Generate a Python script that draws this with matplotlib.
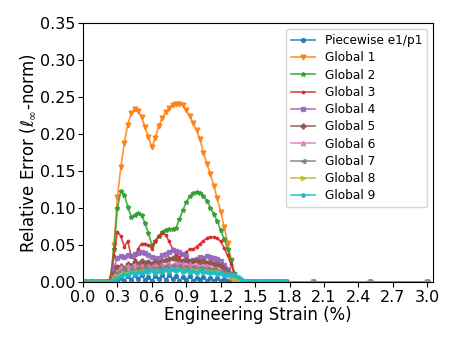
import matplotlib
matplotlib.use("Agg")
import matplotlib.pyplot as plt
import numpy as np

# engineering strain (%) - dense grid up to 1.77, then a few sparse points
strain = [0.00, 0.03, 0.06, 0.09, 0.12, 0.15, 0.18, 0.21, 0.24, 0.27,
          0.30, 0.33, 0.36, 0.39, 0.42, 0.45, 0.48, 0.51, 0.54, 0.57,
          0.60, 0.63, 0.66, 0.69, 0.72, 0.75, 0.78, 0.81, 0.84, 0.87,
          0.90, 0.93, 0.96, 0.99, 1.02, 1.05, 1.08, 1.11, 1.14, 1.17,
          1.20, 1.23, 1.26, 1.29, 1.32, 1.35, 1.38, 1.41, 1.44, 1.47,
          1.50, 1.53, 1.56, 1.59, 1.62, 1.65, 1.68, 1.71, 1.74, 1.77,
          2.0, 2.5, 3.0]

# values from strain 0.24 onward (earlier points are zero)
piecewise = [0.0, 0.0, 0.002, 0.006, 0.002, 0.008, 0.003, 0.009, 0.004, 0.010,
             0.003, 0.007, 0.002, 0.008, 0.004, 0.010, 0.003, 0.009, 0.004, 0.008,
             0.002, 0.007, 0.003, 0.008, 0.002, 0.006, 0.003, 0.007, 0.002, 0.006,
             0.002, 0.005, 0.002, 0.004, 0.001, 0.002]
global1 = [0.005, 0.050, 0.115, 0.155, 0.188, 0.213, 0.228, 0.234, 0.232, 0.223,
           0.210, 0.196, 0.182, 0.195, 0.211, 0.222, 0.230, 0.235, 0.239, 0.241,
           0.241, 0.239, 0.233, 0.224, 0.215, 0.205, 0.193, 0.175, 0.160, 0.146,
           0.130, 0.113, 0.095, 0.075, 0.053, 0.030, 0.010, 0.0]
global2 = [0.005, 0.045, 0.100, 0.123, 0.118, 0.102, 0.088, 0.090, 0.093, 0.090,
           0.080, 0.066, 0.050, 0.055, 0.062, 0.068, 0.071, 0.072, 0.072, 0.073,
           0.085, 0.097, 0.108, 0.116, 0.120, 0.122, 0.121, 0.116, 0.110, 0.100,
           0.092, 0.082, 0.070, 0.058, 0.045, 0.030, 0.012, 0.002]
global3 = [0.003, 0.035, 0.068, 0.062, 0.048, 0.055, 0.035, 0.030, 0.045, 0.052,
           0.052, 0.050, 0.045, 0.055, 0.062, 0.066, 0.064, 0.055, 0.045, 0.036,
           0.034, 0.038, 0.040, 0.045, 0.044, 0.048, 0.052, 0.056, 0.059, 0.061,
           0.061, 0.059, 0.055, 0.046, 0.036, 0.024, 0.010, 0.002]
global4 = [0.002, 0.020, 0.033, 0.035, 0.034, 0.036, 0.035, 0.038, 0.039, 0.040,
           0.039, 0.037, 0.034, 0.032, 0.033, 0.036, 0.038, 0.041, 0.043, 0.042,
           0.040, 0.038, 0.035, 0.029, 0.030, 0.031, 0.034, 0.033, 0.035, 0.034,
           0.033, 0.031, 0.028, 0.023, 0.017, 0.011, 0.006, 0.002]
global5 = [0.0, 0.012, 0.020, 0.022, 0.018, 0.024, 0.022, 0.027, 0.025, 0.028,
           0.026, 0.027, 0.025, 0.027, 0.026, 0.028, 0.030, 0.031, 0.033, 0.031,
           0.030, 0.028, 0.030, 0.027, 0.029, 0.028, 0.027, 0.029, 0.026, 0.027,
           0.025, 0.024, 0.022, 0.018, 0.014, 0.010, 0.006, 0.003]
global6 = [0.0, 0.008, 0.014, 0.020, 0.016, 0.022, 0.019, 0.023, 0.020, 0.022,
           0.018, 0.021, 0.020, 0.023, 0.019, 0.024, 0.022, 0.025, 0.023, 0.026,
           0.024, 0.025, 0.022, 0.024, 0.021, 0.023, 0.020, 0.022, 0.021, 0.020,
           0.018, 0.017, 0.015, 0.012, 0.010, 0.007, 0.004, 0.002]
global7 = [0.0, 0.006, 0.012, 0.015, 0.017, 0.014, 0.018, 0.016, 0.019, 0.017,
           0.020, 0.018, 0.019, 0.017, 0.020, 0.018, 0.021, 0.019, 0.022, 0.020,
           0.021, 0.019, 0.020, 0.018, 0.020, 0.018, 0.019, 0.017, 0.018, 0.016,
           0.017, 0.015, 0.014, 0.013, 0.012, 0.010, 0.008, 0.005, 0.002]
global8 = [0.0, 0.004, 0.008, 0.010, 0.012, 0.011, 0.013, 0.012, 0.014, 0.013,
           0.015, 0.014, 0.016, 0.013, 0.015, 0.014, 0.016, 0.015, 0.017, 0.016,
           0.017, 0.015, 0.016, 0.014, 0.016, 0.015, 0.016, 0.014, 0.015, 0.014,
           0.013, 0.013, 0.012, 0.011, 0.010, 0.008, 0.005, 0.003]
global9 = [0.0, 0.003, 0.006, 0.008, 0.011, 0.009, 0.013, 0.011, 0.014, 0.012,
           0.015, 0.013, 0.016, 0.012, 0.015, 0.013, 0.017, 0.014, 0.018, 0.015,
           0.017, 0.014, 0.016, 0.013, 0.015, 0.012, 0.016, 0.013, 0.014, 0.012,
           0.013, 0.011, 0.012, 0.010, 0.011, 0.009, 0.010, 0.007, 0.004, 0.002,
           0.001, 0.001, 0.001, 0.001, 0.001, 0.001, 0.001, 0.001, 0.001, 0.001,
           0.001, 0.0]

labels = ["Piecewise e1/p1"] + ["Global %d" % i for i in range(1, 10)]
series = [piecewise, global1, global2, global3, global4,
          global5, global6, global7, global8, global9]
markers = ["o", "v", "*", ".", "s", "P", "^", "<", ">", "h"]
msizes = [2.8, 3.5, 3.5, 3.5, 3.2, 3.5, 3.2, 3.2, 3.2, 2.8]


def full(vals):
    # leading zeros before strain 0.24, trailing zeros after the listed values
    out = [0.0] * 8 + list(vals)
    return np.array(out + [0.0] * (len(strain) - len(out)))


fig = plt.figure(figsize=(4.57, 3.42), dpi=100)
ax = fig.add_axes([0.1816, 0.1754, 0.7659, 0.7565])

colors = plt.rcParams["axes.prop_cycle"].by_key()["color"]
for i, vals in enumerate(series):
    ax.plot(strain, full(vals), marker=markers[i], markersize=msizes[i],
            linewidth=1.2, color=colors[i], label=labels[i], alpha=0.85)

ax.set_xlim(0, 3.05)
ax.set_ylim(0, 0.35)
ax.set_xticks(np.arange(0, 3.01, 0.3))
ax.set_yticks(np.arange(0, 0.351, 0.05))
ax.xaxis.set_major_formatter(matplotlib.ticker.FormatStrFormatter("%.1f"))
ax.yaxis.set_major_formatter(matplotlib.ticker.FormatStrFormatter("%.2f"))
ax.tick_params(labelsize=11.5, pad=2)
ax.set_xlabel("Engineering Strain (%)", fontsize=12, labelpad=1)
ax.set_ylabel(r"Relative Error ($\ell_\infty$-norm)", fontsize=12, labelpad=2)
ax.legend(loc="upper right", fontsize=8.7, labelspacing=0.35)

fig.savefig("out.png", dpi=100)
